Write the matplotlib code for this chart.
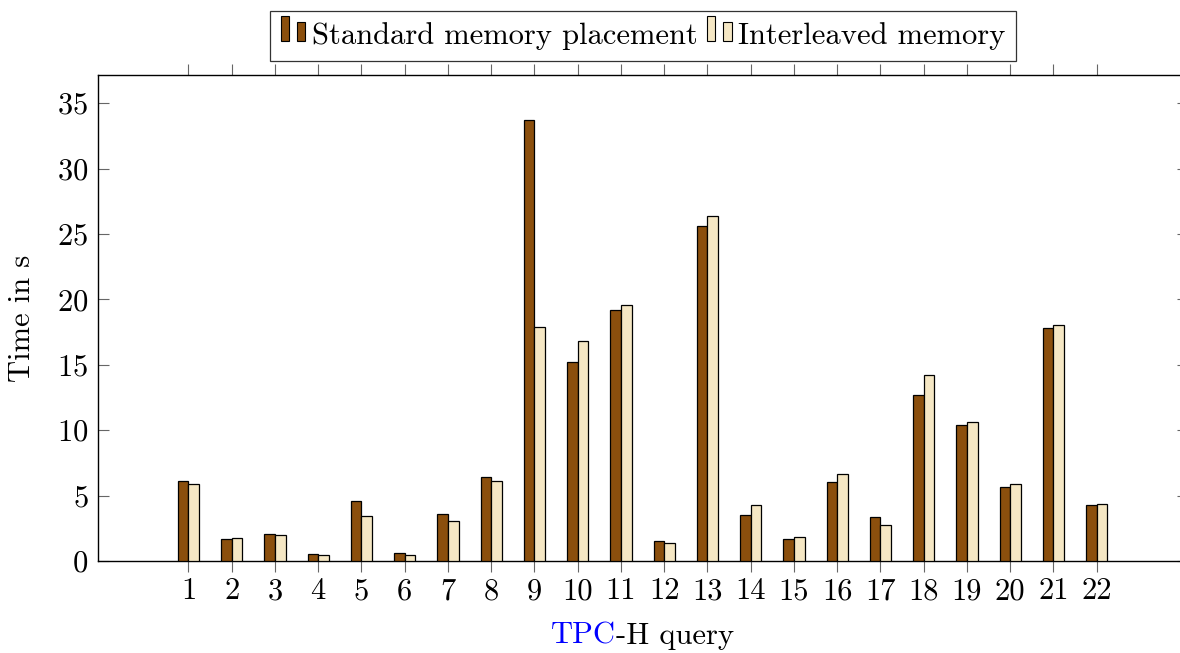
import matplotlib
matplotlib.use("Agg")
import matplotlib.pyplot as plt
from matplotlib.patches import Rectangle
from matplotlib.legend_handler import HandlerBase
from matplotlib.offsetbox import TextArea, HPacker, AnchoredOffsetbox
import numpy as np

plt.rcParams["font.family"] = ["cmr10", "DejaVu Serif"]
plt.rcParams["mathtext.fontset"] = "cm"
plt.rcParams["axes.formatter.use_mathtext"] = True

queries = list(range(1, 23))
standard = [6.15, 1.71, 2.09, 0.51, 4.57, 0.61, 3.62, 6.40, 33.74, 15.18, 19.20,
            1.53, 25.58, 3.55, 1.71, 6.07, 3.40, 12.73, 10.41, 5.66, 17.80, 4.32]
interleaved = [5.89, 1.79, 1.99, 0.49, 3.47, 0.46, 3.06, 6.15, 17.88, 16.79, 19.59,
               1.38, 26.37, 4.32, 1.84, 6.63, 2.78, 14.21, 10.61, 5.92, 18.01, 4.39]
series_names = ["Standard memory placement", "Interleaved memory"]
series_colors = ["#8B4F0D", "#F5E7C4"]
yticks = [0, 5, 10, 15, 20, 25, 30, 35]

FS = 22
W, H = 1180, 653
fig = plt.figure(figsize=(W / 100, H / 100), dpi=100)
ax_left, ax_right, ax_top, ax_bottom = 98, 1188, 75, 561
ax = fig.add_axes([ax_left / W, (H - ax_bottom) / H,
                   (ax_right - ax_left) / W, (ax_bottom - ax_top) / H])

x = np.array(queries, dtype=float)
bw = 0.247
ax.bar(x - bw / 2, standard, bw, color=series_colors[0],
       edgecolor="black", linewidth=0.9, zorder=3)
ax.bar(x + bw / 2, interleaved, bw, color=series_colors[1],
       edgecolor="black", linewidth=0.9, zorder=3)

ax.set_xlim(-1.092, 24.11)
ax.set_ylim(0, 37.16)
ax.set_xticks(queries)
ax.set_xticklabels([str(q) for q in queries])
ax.set_yticks(yticks)

ax.tick_params(axis="x", direction="out", length=8, width=0.8, color="#666666",
               top=True, bottom=True, labelsize=FS, pad=4)
ax.tick_params(axis="y", direction="in", length=8, width=0.8, color="#666666",
               left=True, right=True, labelsize=FS, pad=7)
for s in ax.spines.values():
    s.set_linewidth(1.0)
    s.set_color("black")

ax.set_ylabel("Time in s", fontsize=FS)
ax.yaxis.set_label_coords((36 - ax_left) / (ax_right - ax_left), 0.5)


class PairBarHandler(HandlerBase):
    def create_artists(self, legend, orig_handle, xdescent, ydescent, width,
                       height, fontsize, trans):
        color = orig_handle
        w = 5.8
        r1 = Rectangle((-xdescent, 2.0), w, 18.0,
                       facecolor=color, edgecolor="black", lw=0.8, transform=trans)
        r2 = Rectangle((-xdescent + 11.8, 2.0), w, 13.7,
                       facecolor=color, edgecolor="black", lw=0.8, transform=trans)
        return [r1, r2]


leg = ax.legend(series_colors, series_names,
                handler_map={str: PairBarHandler()},
                loc="lower center", bbox_to_anchor=(0.5, 1.0 + 14 / 486),
                ncol=2, frameon=True, fancybox=False, fontsize=FS,
                handlelength=0.82, handletextpad=0.18, columnspacing=0.32,
                borderpad=0.36, borderaxespad=0)
leg.get_frame().set_edgecolor("black")
leg.get_frame().set_linewidth(0.9)

# x label with a coloured acronym
ta1 = TextArea("TPC", textprops=dict(color="#0000FF", fontsize=FS, family=["cmr10"]))
ta2 = TextArea("-H query", textprops=dict(color="black", fontsize=FS, family=["cmr10"]))
pack = HPacker(children=[ta1, ta2], align="baseline", pad=0, sep=0)
anch = AnchoredOffsetbox(loc="center", child=pack, frameon=False,
                         bbox_to_anchor=(0.5, (ax_bottom - 636) / (ax_bottom - ax_top)),
                         bbox_transform=ax.transAxes, borderpad=0, pad=0)
ax.add_artist(anch)

fig.savefig("out.png", dpi=100)
